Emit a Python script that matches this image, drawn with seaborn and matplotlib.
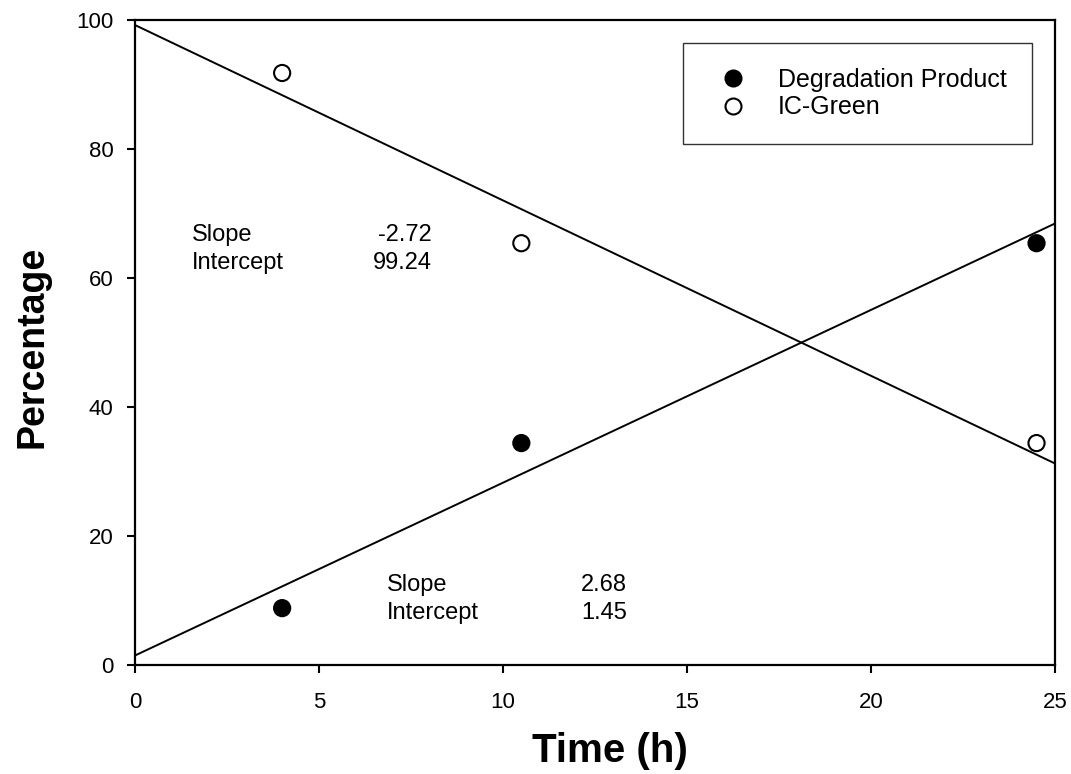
import numpy as np
import pandas as pd
import matplotlib
matplotlib.use("Agg")
import matplotlib.pyplot as plt
import seaborn as sns

# data
time_h = [4, 10.5, 24.5]
degradation = [8.8, 34.4, 65.4]
ic_green = [91.8, 65.4, 34.4]

# fitted lines (as printed on the chart)
deg_slope, deg_intercept = 2.68, 1.45
icg_slope, icg_intercept = -2.72, 99.24
fit_x = [0, 25]

sns.set_theme(style="ticks")
plt.rcParams['font.family'] = ['Liberation Sans', 'DejaVu Sans']
plt.rcParams['text.color'] = 'black'
plt.rcParams['axes.labelcolor'] = 'black'
plt.rcParams['xtick.color'] = 'black'
plt.rcParams['ytick.color'] = 'black'
plt.rcParams['axes.edgecolor'] = 'black'

df = pd.DataFrame({'Time': time_h * 2,
                   'Percentage': degradation + ic_green,
                   'Series': ['Degradation Product'] * 3 + ['IC-Green'] * 3})

fig = plt.figure(figsize=(10.71, 7.74), dpi=100)
ax = fig.add_axes([0.126, 0.141, 0.859, 0.833])

fx = np.array(fit_x)
sns.lineplot(x=fx, y=deg_intercept + deg_slope * fx, color='black', linewidth=1.4, ax=ax)
sns.lineplot(x=fx, y=icg_intercept + icg_slope * fx, color='black', linewidth=1.4, ax=ax)

sns.scatterplot(data=df, x='Time', y='Percentage', hue='Series',
                palette={'Degradation Product': 'black', 'IC-Green': 'white'},
                edgecolor='black', linewidth=1.5, s=135, zorder=5, ax=ax,
                legend=False)

ax.set_xlim(0, 25)
ax.set_ylim(0, 100)
ax.set_xticks(range(0, 26, 5))
ax.set_yticks(range(0, 101, 20))
ax.tick_params(labelsize=16, direction='out', length=5.5, width=1.5)
ax.tick_params(axis='x', pad=14)
ax.tick_params(axis='y', pad=10)
for s in ax.spines.values():
    s.set_linewidth(1.6)

ax.set_xlabel('Time (h)', fontsize=29, fontweight='bold', va='top')
ax.set_ylabel('Percentage', fontsize=27, fontweight='bold')
ax.xaxis.set_label_coords(0.516, -0.104)
ax.yaxis.set_label_coords(-0.092, 0.493)

# slope / intercept annotations
fs = 17
ax.text(1.55, 65.7, 'Slope', fontsize=fs, va='baseline')
ax.text(1.55, 61.4, 'Intercept', fontsize=fs, va='baseline')
ax.text(8.07, 65.7, f'{icg_slope:.2f}', fontsize=fs, va='baseline', ha='right')
ax.text(8.07, 61.4, f'{icg_intercept:.2f}', fontsize=fs, va='baseline', ha='right')
ax.text(6.85, 11.5, 'Slope', fontsize=fs, va='baseline')
ax.text(6.85, 7.1, 'Intercept', fontsize=fs, va='baseline')
ax.text(13.37, 11.5, f'{deg_slope:.2f}', fontsize=fs, va='baseline', ha='right')
ax.text(13.37, 7.1, f'{deg_intercept:.2f}', fontsize=fs, va='baseline', ha='right')

handles = [plt.Line2D([], [], marker='o', linestyle='', markersize=11.5,
                      markerfacecolor=c, markeredgecolor='black', markeredgewidth=1.5)
           for c in ['black', 'white']]
leg = ax.legend(handles, ['Degradation Product', 'IC-Green'],
                loc='upper right', bbox_to_anchor=(0.975, 0.965), borderaxespad=0,
                fontsize=18, frameon=True, fancybox=False, edgecolor='black',
                borderpad=1.0, handletextpad=0.8, labelspacing=0.15,
                handlelength=2.0)
leg.get_frame().set_linewidth(1.0)

fig.savefig('out.png', dpi=100)
